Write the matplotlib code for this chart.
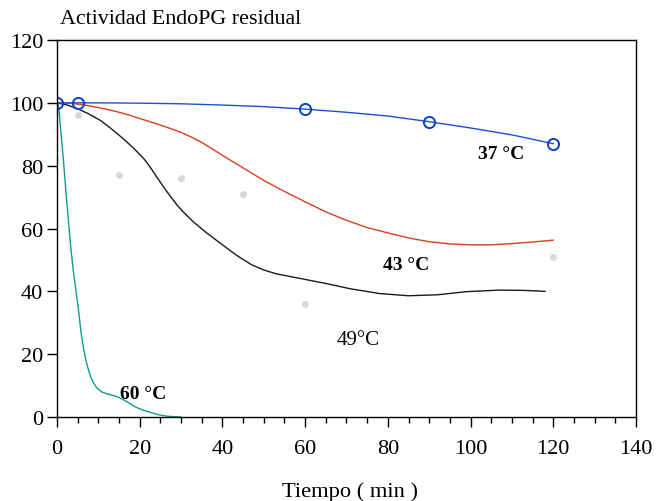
import numpy as np
import matplotlib
matplotlib.use("Agg")
import matplotlib.pyplot as plt
from matplotlib.ticker import MultipleLocator

plt.rcParams["font.family"] = ["Liberation Serif", "DejaVu Serif"]

# 37 C (blue) - measured points and fitted line
t37_pts = [0, 5, 60, 90, 120]
a37_pts = [100, 100, 98, 94, 87]
t37 = [0, 10, 20, 30, 40, 50, 60, 70, 80, 90, 100, 110, 120]
a37 = [100, 100, 99.9, 99.7, 99.3, 98.8, 98, 97, 95.8, 94, 92, 89.8, 87]

# 43 C (red)
t43 = [0, 2.5, 5, 7.5, 10, 12.5, 15, 17.5, 20, 22.5, 25, 27.5, 30, 32.5, 35,
       37.5, 40, 45, 50, 55, 60, 65, 70, 75, 80, 85, 90, 95, 100, 105, 110,
       115, 120]
a43 = [100, 99.9, 99.6, 99.1, 98.5, 97.8, 97, 96.1, 95, 94, 92.9, 91.8, 90.6,
       89.1, 87.4, 85.4, 83.3, 79.3, 75.3, 71.8, 68.5, 65.3, 62.6, 60.3, 58.6,
       57, 55.8, 55.1, 54.8, 54.8, 55.2, 55.7, 56.3]

# 49 C (black)
t49 = [0, 2.5, 5, 7.5, 10.5, 13, 16, 18.5, 21, 22.5, 24, 26, 27.5, 29, 30.5,
       33, 36, 40, 43.5, 47, 50, 53, 56, 60, 65, 71, 78, 85, 92, 99, 107,
       113, 118]
a49 = [100, 99.3, 98.1, 96.6, 94.4, 91.9, 88.6, 85.6, 82.2, 79.6, 76.6, 72.8,
       70.1, 67.5, 65.3, 62.1, 58.8, 54.8, 51.4, 48.5, 46.8, 45.6, 44.8, 43.8,
       42.5, 40.8, 39.3, 38.6, 38.9, 39.9, 40.4, 40.3, 40]

# 60 C (teal)
t60 = [0, 0.4, 1.0, 1.6, 2.2, 2.8, 3.4, 4.0, 4.6, 5.2, 5.8, 6.4, 7.0, 7.6,
       8.2, 8.8, 9.6, 10.8, 12, 13.2, 14.5, 15.6, 17, 18.5, 20, 21.5, 23,
       25, 27, 30]
a60 = [100, 99, 90, 81, 71, 62, 53, 46, 40, 34, 27, 22, 18, 15, 12.6, 11,
       9.3, 8, 7.4, 7, 6.5, 5.8, 4.8, 3.5, 2.6, 1.9, 1.3, 0.6, 0.2, 0]

# grey points
t_grey = [5, 15, 30, 45, 60, 120]
a_grey = [96, 77, 76, 71, 36, 51]

fig = plt.figure(figsize=(6.56, 5.02), dpi=100)
ax = fig.add_axes([0.0869, 0.1673, 0.8826, 0.751])

ax.plot(t_grey, a_grey, "o", color="#d8d8d8", markersize=5, markeredgewidth=0, zorder=1)
ax.plot(t60, a60, color="#139a94", lw=1.0)
ax.plot(t49, a49, color="#1a1a1a", lw=1.0)
ax.plot(t43, a43, color="#d8401e", lw=1.0)
ax.plot(t37, a37, color="#1d4fd0", lw=1.0)
ax.plot(t37_pts, a37_pts, "o", mfc="none", mec="#0a3fcc", mew=1.4, markersize=8)

ax.set_xlim(0, 140)
ax.set_ylim(0, 120)
ax.xaxis.set_major_locator(MultipleLocator(20))
ax.xaxis.set_minor_locator(MultipleLocator(5))
ax.yaxis.set_major_locator(MultipleLocator(20))
ax.tick_params(axis="x", which="major", length=7, width=1, pad=9, labelsize=16)
ax.tick_params(axis="x", which="minor", length=4, width=1)
ax.tick_params(axis="y", which="major", length=7, width=1, pad=3, labelsize=16)
ax.tick_params(top=False, right=False)
for s in ax.spines.values():
    s.set_linewidth(1.0)

ax.text(101.8, 83.8, "37 °C", fontsize=14, fontweight="bold", va="center")
ax.text(78.8, 48.7, "43 °C", fontsize=14, fontweight="bold", va="center")
ax.text(67.5, 24.8, "49°C", fontsize=15, va="center")
ax.text(15.3, 7.6, "60 °C", fontsize=14, fontweight="bold", va="center")

fig.text(60 / 656, 1 - 20 / 502, "Actividad EndoPG residual", fontsize=15.8, va="center", ha="left")
fig.text(350 / 656, 1 - 492 / 502, "Tiempo ( min )", fontsize=16.2, va="center", ha="center")

fig.savefig("out.png", dpi=100)
